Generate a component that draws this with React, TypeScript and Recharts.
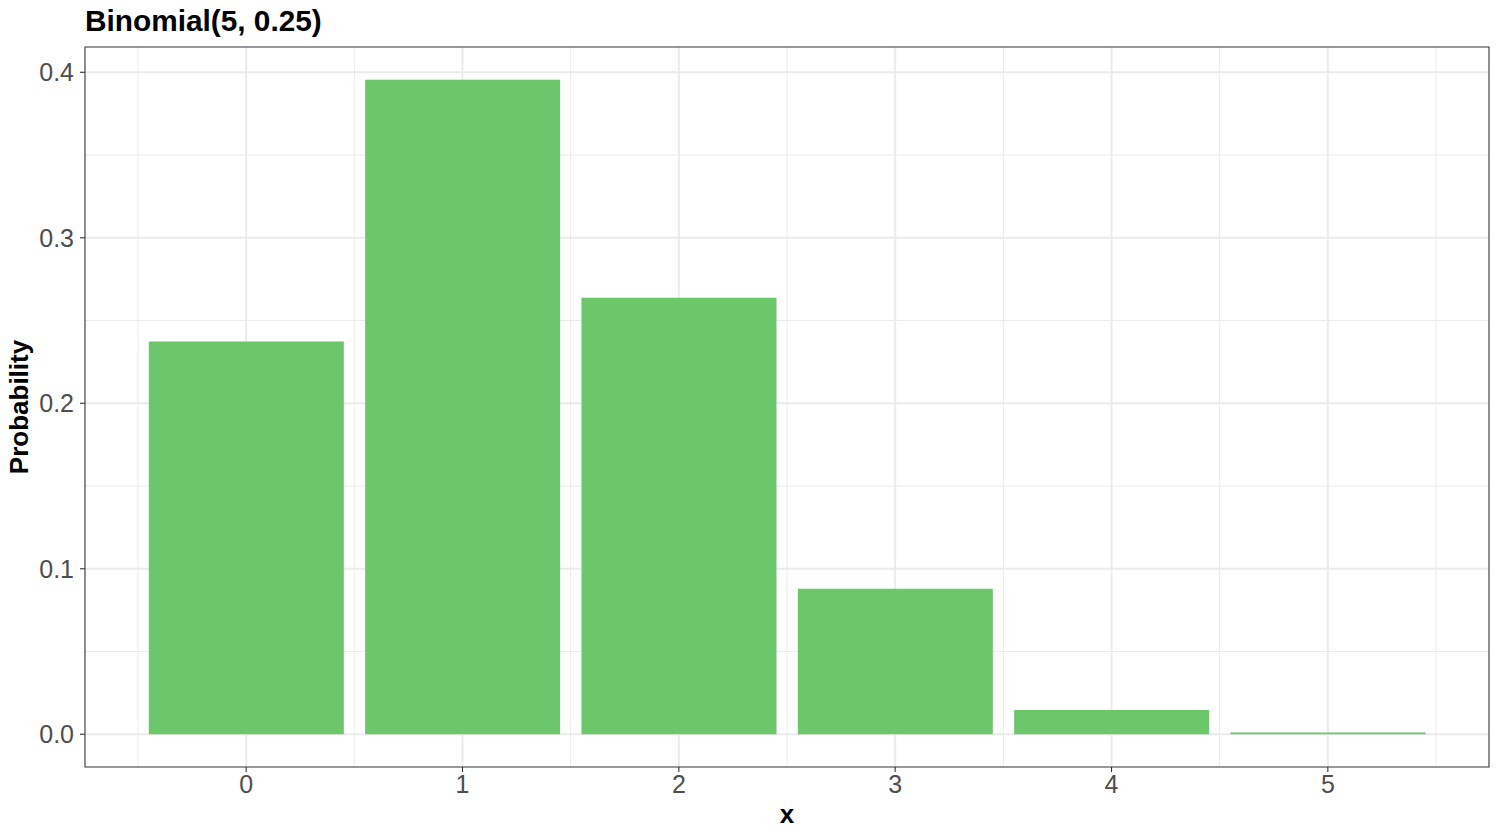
import { BarChart, Bar, XAxis, YAxis, CartesianGrid, ReferenceArea, Label } from 'recharts';

const outcomes = [0, 1, 2, 3, 4, 5];
const probabilities = [0.2373, 0.3955, 0.2637, 0.0879, 0.0146, 0.001];
const xTicks = [0, 1, 2, 3, 4, 5];
const xMinor = [-0.5, 0.5, 1.5, 2.5, 3.5, 4.5, 5.5];
const yTicks = [0, 0.1, 0.2, 0.3, 0.4];
const yMinor = [0.05, 0.15, 0.25, 0.35];

const data = outcomes.map((x, i) => ({ x, p: probabilities[i] }));

// ggplot style expansion: 5% on y, 0.6 units on x
const yMax = Math.max(...probabilities);
const yDomain = [-0.05 * yMax, yMax * 1.05];
const xDomain = [-0.45 - 0.295, 5.45 + 0.295];

const FONT = '"Liberation Sans", Arial, Helvetica, sans-serif';

export default function App() {
    return (
        <div style={{ position: 'absolute', left: 0, top: 0, width: 1500, height: 840, background: '#fff', fontFamily: FONT }}>
            <svg width={1500} height={40} style={{ position: 'absolute', left: 0, top: 0 }}>
                <text x={85} y={31} fontSize={29.8} fontWeight="bold" fill="#000" fontFamily={FONT}>Binomial(5, 0.25)</text>
            </svg>
            <BarChart
                width={1500}
                height={840}
                data={data}
                margin={{ top: 47, right: 11, left: 0, bottom: 0 }}
                barCategoryGap="5%"
                style={{ position: 'absolute', left: 0, top: 0 }}
            >
                {/* minor grid then major grid, ggplot theme_bw look */}
                <CartesianGrid stroke="#ebebeb" strokeWidth={1} horizontalValues={yMinor} verticalValues={xMinor} />
                <CartesianGrid stroke="#ebebeb" strokeWidth={2} horizontalValues={yTicks} verticalValues={xTicks} />
                <XAxis
                    dataKey="x"
                    type="number"
                    domain={xDomain}
                    allowDataOverflow
                    ticks={xTicks}
                    height={73}
                    axisLine={false}
                    tickSize={5}
                    tickMargin={3}
                    tickLine={{ stroke: '#333333', strokeWidth: 1.1 }}
                    tick={{ fill: '#4d4d4d', fontSize: 25, fontFamily: FONT }}
                >
                    <Label
                        content={({ viewBox }: any) => (
                            <text x={viewBox.x + viewBox.width / 2} y={viewBox.y + 56} textAnchor="middle" fontSize={26} fontWeight="bold" fill="#000" fontFamily={FONT}>x</text>
                        )}
                    />
                </XAxis>
                <YAxis
                    type="number"
                    domain={yDomain}
                    allowDataOverflow
                    ticks={yTicks}
                    tickFormatter={(v: number) => v.toFixed(1)}
                    width={85}
                    axisLine={false}
                    tickSize={5}
                    tickMargin={6}
                    tickLine={{ stroke: '#333333', strokeWidth: 1.1 }}
                    tick={{ fill: '#4d4d4d', fontSize: 25, fontFamily: FONT }}
                >
                    <Label
                        content={({ viewBox }: any) => {
                            const cy = viewBox.y + viewBox.height / 2;
                            return (
                                <text x={28} y={cy} transform={`rotate(-90 28 ${cy})`} textAnchor="middle" fontSize={26} fontWeight="bold" fill="#000" fontFamily={FONT}>Probability</text>
                            );
                        }}
                    />
                </YAxis>
                <Bar dataKey="p" fill="#6CC66A" isAnimationActive={false} />
                <ReferenceArea
                    x1={xDomain[0]}
                    x2={xDomain[1]}
                    y1={yDomain[0]}
                    y2={yDomain[1]}
                    fill="none"
                    fillOpacity={0}
                    stroke="#333333"
                    strokeWidth={1.1}
                    ifOverflow="visible"
                />
            </BarChart>
        </div>
    );
}
